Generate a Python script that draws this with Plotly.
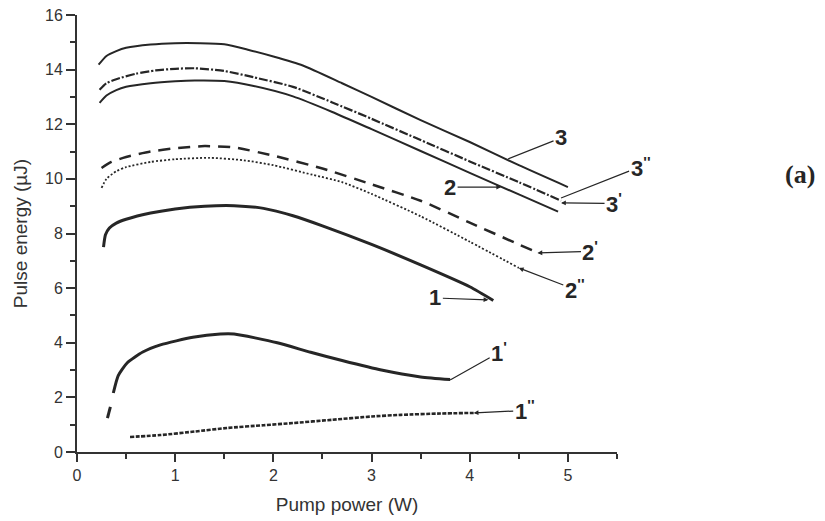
import plotly.graph_objects as go

# ---------------- data ----------------
x_3 = [0.22, 0.3, 0.4, 0.5, 0.75, 1.0, 1.25, 1.5, 1.75, 2.0, 2.3, 2.7, 3.0, 3.5, 4.0, 4.5, 5.0]
y_3 = [14.18, 14.5, 14.68, 14.8, 14.92, 14.97, 14.97, 14.93, 14.72, 14.48, 14.15, 13.5, 13.0, 12.15, 11.35, 10.5, 9.7]

x_3p = [0.23, 0.3, 0.4, 0.6, 0.8, 1.0, 1.2, 1.5, 1.8, 2.2, 2.6, 3.0, 3.5, 4.0, 4.5, 4.93]
y_3p = [13.26, 13.5, 13.65, 13.85, 13.97, 14.03, 14.05, 13.95, 13.72, 13.37, 12.8, 12.2, 11.42, 10.64, 9.88, 9.2]

x_2 = [0.23, 0.3, 0.4, 0.5, 0.75, 1.0, 1.2, 1.5, 1.8, 2.2, 2.6, 3.0, 3.5, 4.0, 4.5, 4.9]
y_2 = [12.78, 13.05, 13.25, 13.37, 13.5, 13.57, 13.6, 13.58, 13.4, 13.02, 12.45, 11.82, 11.02, 10.22, 9.43, 8.8]

x_2p = [0.25, 0.35, 0.5, 0.75, 1.0, 1.3, 1.6, 2.0, 2.5, 3.0, 3.5, 4.0, 4.5, 4.7]
y_2p = [10.4, 10.62, 10.8, 11.0, 11.12, 11.2, 11.15, 10.85, 10.38, 9.8, 9.2, 8.4, 7.6, 7.29]

x_2pp = [0.25, 0.3, 0.4, 0.5, 0.75, 1.0, 1.35, 1.7, 2.0, 2.4, 2.7, 3.0, 3.5, 4.0, 4.5]
y_2pp = [9.67, 10.0, 10.28, 10.43, 10.62, 10.72, 10.77, 10.68, 10.5, 10.15, 9.88, 9.45, 8.63, 7.7, 6.74]

x_1 = [0.27, 0.29, 0.33, 0.4, 0.5, 0.75, 1.0, 1.3, 1.6, 1.9, 2.2, 2.5, 3.0, 3.5, 4.0, 4.24]
y_1 = [7.5, 7.95, 8.2, 8.38, 8.52, 8.75, 8.9, 9.0, 9.02, 8.92, 8.65, 8.28, 7.6, 6.85, 6.05, 5.55]

x_1p = [0.31, 0.34, None, 0.37, 0.42, 0.51, 0.67, 0.85, 1.18, 1.46, 1.6, 2.04, 2.38, 2.7, 3.1, 3.5, 3.8]
y_1p = [1.24, 1.65, None, 2.16, 2.8, 3.26, 3.66, 3.92, 4.2, 4.32, 4.32, 4.0, 3.65, 3.35, 3.0, 2.75, 2.65]

x_1pp = [0.54, 0.85, 1.2, 1.53, 1.9, 2.2, 2.6, 3.0, 3.3, 3.7, 4.04]
y_1pp = [0.55, 0.62, 0.75, 0.88, 0.98, 1.06, 1.18, 1.3, 1.36, 1.41, 1.43]

x_ticks = [0, 1, 2, 3, 4, 5]
y_ticks = [0, 2, 4, 6, 8, 10, 12, 14, 16]

INK = "#262626"

fig = go.Figure()

def add(x, y, width, dash):
    fig.add_trace(go.Scatter(x=x, y=y, mode="lines",
                             line=dict(color=INK, width=width, dash=dash, shape="spline", smoothing=0.6),
                             showlegend=False, hoverinfo="skip"))

add(x_3, y_3, 2, "solid")
add(x_3p, y_3p, 2.2, "9px,2px,2px,2px")
add(x_2, y_2, 2, "solid")
add(x_2p, y_2p, 2.5, "12px,8px")
add(x_2pp, y_2pp, 1.8, "2px,2px")
add(x_1, y_1, 3, "solid")
add(x_1p, y_1p, 3, "solid")
add(x_1pp, y_1pp, 2.6, "4px,1.5px")

lab_font = dict(family="Liberation Sans, Arial, sans-serif", size=22, color=INK)

def label(text, tip_x, tip_y, lab_x, lab_y, head=True):
    fig.add_annotation(x=tip_x, y=tip_y, ax=lab_x, ay=lab_y, axref="x", ayref="y", xref="x", yref="y",
                       text="<b>" + text + "</b>", showarrow=True, arrowhead=2 if head else 0,
                       arrowsize=0.8, arrowwidth=1.2, arrowcolor=INK, font=lab_font)

label("3", 4.39, 10.73, 4.93, 11.5, head=False)
label("2", 4.32, 9.7, 3.8, 9.7)
label("3<sup>''</sup>", 4.93, 9.3, 5.74, 10.45, head=False)
label("3<sup>'</sup>", 4.93, 9.12, 5.47, 9.1)
label("2<sup>'</sup>", 4.69, 7.29, 5.23, 7.35)
label("2<sup>''</sup>", 4.5, 6.74, 5.07, 5.95)
label("1", 4.19, 5.57, 3.65, 5.64)
label("1<sup>'</sup>", 3.8, 2.64, 4.3, 3.65, head=False)
label("1<sup>''</sup>", 4.04, 1.43, 4.56, 1.52)

# panel tag, placed relative to the plot area (paper coordinates)
fig.add_annotation(x=1.37, y=0.673, xref="paper", yref="paper", text="<b>(a)</b>", showarrow=False,
                   font=dict(family="Liberation Serif, Times New Roman, serif", size=26, color=INK))

tick_font = dict(family="Liberation Sans, Arial, sans-serif", size=16, color="#333")
title_font = dict(family="Liberation Sans, Arial, sans-serif", size=19, color="#333")

fig.update_xaxes(range=[0, 5.5], tickvals=x_ticks, ticks="outside", ticklen=8, tickwidth=1.5, tickcolor="#333",
                 showline=True, linewidth=2, linecolor="#333", showgrid=False, zeroline=False,
                 ticklabeloverflow="allow",
                 minor=dict(ticks="outside", ticklen=5, tickwidth=1.5, tickcolor="#333", dtick=0.5, showgrid=False),
                 tickfont=tick_font, title=dict(text="Pump power (W)", font=title_font, standoff=14))
fig.update_yaxes(range=[0, 16], tickvals=y_ticks, ticks="outside", ticklen=9, tickwidth=1.5, tickcolor="#333",
                 showline=True, linewidth=2, linecolor="#333", showgrid=False, zeroline=False,
                 ticklabeloverflow="allow",
                 minor=dict(ticks="outside", ticklen=5, tickwidth=1.5, tickcolor="#333", dtick=1, showgrid=False),
                 tickfont=tick_font, title=dict(text="Pulse energy (\u00b5J)", font=title_font, standoff=12))

# the page body adds an 8px offset, so the figure is 8px smaller and margins shifted accordingly
fig.update_layout(width=817, height=513, margin=dict(l=69, r=208, t=7, b=69, autoexpand=False),
                  paper_bgcolor="white", plot_bgcolor="white")

fig.write_html("out.html")
